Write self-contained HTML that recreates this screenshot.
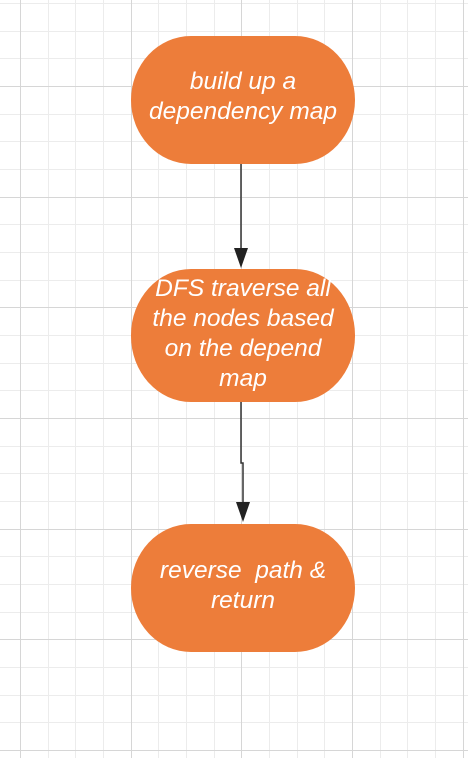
<!DOCTYPE html>
<html><head><style>
body{margin:0;width:468px;height:758px;overflow:hidden;background:#fff}
</style></head><body>
<svg width="468" height="758" xmlns="http://www.w3.org/2000/svg">
<g stroke="#ececec" stroke-width="1">
<path d="M20.5 0V758M48.5 0V758M75.5 0V758M103.5 0V758M131.5 0V758M158.5 0V758M186.5 0V758M214.5 0V758M241.5 0V758M269.5 0V758M297.5 0V758M324.5 0V758M352.5 0V758M380.5 0V758M407.5 0V758M435.5 0V758M463.5 0V758"/>
<path d="M0 3.5H468M0 31.5H468M0 58.5H468M0 86.5H468M0 114.5H468M0 141.5H468M0 169.5H468M0 197.5H468M0 224.5H468M0 252.5H468M0 280.5H468M0 307.5H468M0 335.5H468M0 363.5H468M0 390.5H468M0 418.5H468M0 446.5H468M0 473.5H468M0 501.5H468M0 529.5H468M0 556.5H468M0 584.5H468M0 612.5H468M0 639.5H468M0 667.5H468M0 695.5H468M0 722.5H468M0 750.5H468"/>
</g>
<g stroke="#d6d6d6" stroke-width="1">
<path d="M20.5 0V758M131.5 0V758M241.5 0V758M352.5 0V758M463.5 0V758"/>
<path d="M0 86.5H468M0 197.5H468M0 307.5H468M0 418.5H468M0 529.5H468M0 639.5H468M0 750.5H468"/>
</g>
<g fill="#ED7D3A">
<rect x="131" y="36" width="224" height="128" rx="60" ry="64"/>
<rect x="131" y="269" width="224" height="133" rx="60" ry="66"/>
<rect x="131" y="524" width="224" height="128" rx="60" ry="64"/>
</g>
<g stroke="#333" stroke-width="1.5" fill="none">
<path d="M241 164V250"/>
<path d="M241 402V463H243V505"/>
</g>
<g fill="#222">
<path d="M234 248L248 248L241 268Z"/>
<path d="M236 502L250 502L243 522Z"/>
</g>
<g fill="#fff" font-family="Liberation Sans, sans-serif" font-style="italic" font-size="24.5" text-anchor="middle">
<text x="243" y="89">build up a</text>
<text x="243" y="119">dependency map</text>
<text x="243" y="296">DFS traverse all</text>
<text x="243" y="326">the nodes based</text>
<text x="243" y="356">on the depend</text>
<text x="243" y="386">map</text>
<text x="243" y="578" xml:space="preserve">reverse  path &amp;</text>
<text x="243" y="608">return</text>
</g>
</svg>
</body></html>
